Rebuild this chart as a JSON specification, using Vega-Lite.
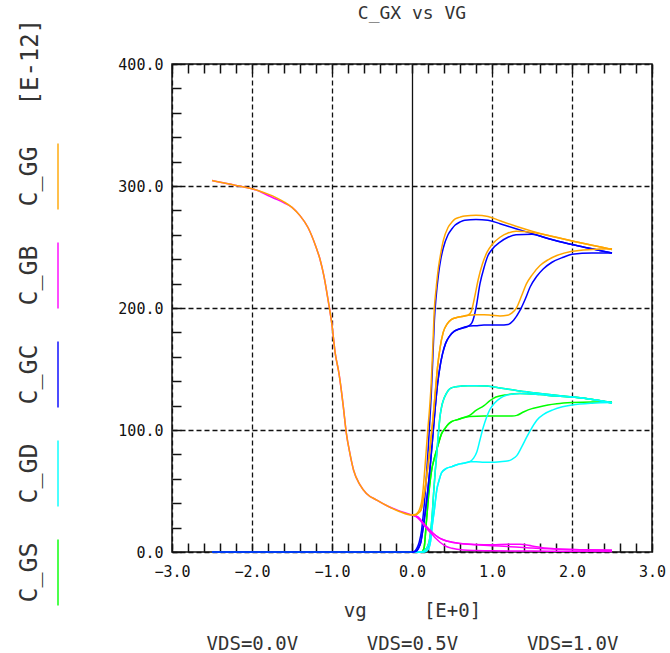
{
"$schema":"https://vega.github.io/schema/vega-lite/v6.json",
"autosize":{"type":"none"},
"padding":{"left":0,"top":64,"right":670,"bottom":589},
"bounds":"flush",
"spacing":85,
"config":{"view":{"stroke":"#111","strokeWidth":1.5},"axis":{"labelFont":"DejaVu Sans Mono","titleFont":"DejaVu Sans Mono"}},
"datasets":{
"legend":[{"name":"C_GG"},{"name":"C_GB"},{"name":"C_GC"},{"name":"C_GD"},{"name":"C_GS"}],
"curves":[
{"q":"C_GS","vds":"0.0","vg":-2.5,"c":0},{"q":"C_GS","vds":"0.0","vg":0,"c":0},{"q":"C_GS","vds":"0.0","vg":0.1,"c":0},{"q":"C_GS","vds":"0.0","vg":0.15,"c":1},{"q":"C_GS","vds":"0.0","vg":0.2,"c":5},{"q":"C_GS","vds":"0.0","vg":0.23,"c":15},{"q":"C_GS","vds":"0.0","vg":0.25,"c":28},{"q":"C_GS","vds":"0.0","vg":0.27,"c":48},{"q":"C_GS","vds":"0.0","vg":0.29,"c":66},{"q":"C_GS","vds":"0.0","vg":0.31,"c":81},{"q":"C_GS","vds":"0.0","vg":0.33,"c":97},{"q":"C_GS","vds":"0.0","vg":0.35,"c":111},{"q":"C_GS","vds":"0.0","vg":0.37,"c":119},{"q":"C_GS","vds":"0.0","vg":0.39,"c":124},{"q":"C_GS","vds":"0.0","vg":0.43,"c":130},{"q":"C_GS","vds":"0.0","vg":0.475,"c":134},{"q":"C_GS","vds":"0.0","vg":0.55,"c":135.5},{"q":"C_GS","vds":"0.0","vg":0.62,"c":136},{"q":"C_GS","vds":"0.0","vg":0.7,"c":136.3},{"q":"C_GS","vds":"0.0","vg":0.8,"c":136.3},{"q":"C_GS","vds":"0.0","vg":0.94,"c":136},{"q":"C_GS","vds":"0.0","vg":1.1,"c":134.5},{"q":"C_GS","vds":"0.0","vg":1.35,"c":132},{"q":"C_GS","vds":"0.0","vg":1.6,"c":130},{"q":"C_GS","vds":"0.0","vg":1.8,"c":128.5},{"q":"C_GS","vds":"0.0","vg":2.1,"c":126.5},{"q":"C_GS","vds":"0.0","vg":2.3,"c":124.5},{"q":"C_GS","vds":"0.0","vg":2.5,"c":122},
{"q":"C_GS","vds":"0.5","vg":0,"c":0},{"q":"C_GS","vds":"0.5","vg":0.12,"c":0},{"q":"C_GS","vds":"0.5","vg":0.15,"c":3},{"q":"C_GS","vds":"0.5","vg":0.18,"c":25},{"q":"C_GS","vds":"0.5","vg":0.21,"c":48},{"q":"C_GS","vds":"0.5","vg":0.245,"c":67},{"q":"C_GS","vds":"0.5","vg":0.28,"c":77},{"q":"C_GS","vds":"0.5","vg":0.31,"c":84},{"q":"C_GS","vds":"0.5","vg":0.34,"c":91},{"q":"C_GS","vds":"0.5","vg":0.37,"c":97},{"q":"C_GS","vds":"0.5","vg":0.41,"c":101},{"q":"C_GS","vds":"0.5","vg":0.45,"c":104.5},{"q":"C_GS","vds":"0.5","vg":0.5,"c":107},{"q":"C_GS","vds":"0.5","vg":0.57,"c":108.5},{"q":"C_GS","vds":"0.5","vg":0.64,"c":110},{"q":"C_GS","vds":"0.5","vg":0.72,"c":112},{"q":"C_GS","vds":"0.5","vg":0.8,"c":116},{"q":"C_GS","vds":"0.5","vg":0.9,"c":120},{"q":"C_GS","vds":"0.5","vg":0.975,"c":124},{"q":"C_GS","vds":"0.5","vg":1.05,"c":127},{"q":"C_GS","vds":"0.5","vg":1.19,"c":129},{"q":"C_GS","vds":"0.5","vg":1.35,"c":130},{"q":"C_GS","vds":"0.5","vg":1.6,"c":129},{"q":"C_GS","vds":"0.5","vg":1.8,"c":127.8},{"q":"C_GS","vds":"0.5","vg":2.1,"c":126.5},{"q":"C_GS","vds":"0.5","vg":2.3,"c":124.5},{"q":"C_GS","vds":"0.5","vg":2.5,"c":122.5},
{"q":"C_GS","vds":"1.0","vg":0,"c":0},{"q":"C_GS","vds":"1.0","vg":0.12,"c":0},{"q":"C_GS","vds":"1.0","vg":0.15,"c":3},{"q":"C_GS","vds":"1.0","vg":0.18,"c":25},{"q":"C_GS","vds":"1.0","vg":0.21,"c":48},{"q":"C_GS","vds":"1.0","vg":0.245,"c":67},{"q":"C_GS","vds":"1.0","vg":0.28,"c":77},{"q":"C_GS","vds":"1.0","vg":0.31,"c":84},{"q":"C_GS","vds":"1.0","vg":0.34,"c":91},{"q":"C_GS","vds":"1.0","vg":0.37,"c":97},{"q":"C_GS","vds":"1.0","vg":0.41,"c":101},{"q":"C_GS","vds":"1.0","vg":0.45,"c":104.5},{"q":"C_GS","vds":"1.0","vg":0.5,"c":107},{"q":"C_GS","vds":"1.0","vg":0.57,"c":108.5},{"q":"C_GS","vds":"1.0","vg":0.64,"c":110},{"q":"C_GS","vds":"1.0","vg":0.72,"c":111},{"q":"C_GS","vds":"1.0","vg":0.9,"c":111.5},{"q":"C_GS","vds":"1.0","vg":1.1,"c":111.5},{"q":"C_GS","vds":"1.0","vg":1.25,"c":111.5},{"q":"C_GS","vds":"1.0","vg":1.31,"c":112},{"q":"C_GS","vds":"1.0","vg":1.4,"c":115},{"q":"C_GS","vds":"1.0","vg":1.5,"c":117.5},{"q":"C_GS","vds":"1.0","vg":1.56,"c":118.5},{"q":"C_GS","vds":"1.0","vg":1.7,"c":120.5},{"q":"C_GS","vds":"1.0","vg":1.81,"c":121.5},{"q":"C_GS","vds":"1.0","vg":2.0,"c":122.5},{"q":"C_GS","vds":"1.0","vg":2.25,"c":123},{"q":"C_GS","vds":"1.0","vg":2.5,"c":123},
{"q":"C_GD","vds":"0.0","vg":-2.5,"c":0},{"q":"C_GD","vds":"0.0","vg":0,"c":0},{"q":"C_GD","vds":"0.0","vg":0.1,"c":0},{"q":"C_GD","vds":"0.0","vg":0.15,"c":1},{"q":"C_GD","vds":"0.0","vg":0.2,"c":5},{"q":"C_GD","vds":"0.0","vg":0.23,"c":15},{"q":"C_GD","vds":"0.0","vg":0.25,"c":28},{"q":"C_GD","vds":"0.0","vg":0.27,"c":48},{"q":"C_GD","vds":"0.0","vg":0.29,"c":66},{"q":"C_GD","vds":"0.0","vg":0.31,"c":81},{"q":"C_GD","vds":"0.0","vg":0.33,"c":97},{"q":"C_GD","vds":"0.0","vg":0.35,"c":111},{"q":"C_GD","vds":"0.0","vg":0.37,"c":119},{"q":"C_GD","vds":"0.0","vg":0.39,"c":124},{"q":"C_GD","vds":"0.0","vg":0.43,"c":130},{"q":"C_GD","vds":"0.0","vg":0.475,"c":134},{"q":"C_GD","vds":"0.0","vg":0.55,"c":135.5},{"q":"C_GD","vds":"0.0","vg":0.62,"c":136},{"q":"C_GD","vds":"0.0","vg":0.7,"c":136.3},{"q":"C_GD","vds":"0.0","vg":0.8,"c":136.3},{"q":"C_GD","vds":"0.0","vg":0.94,"c":136},{"q":"C_GD","vds":"0.0","vg":1.1,"c":134.5},{"q":"C_GD","vds":"0.0","vg":1.35,"c":132},{"q":"C_GD","vds":"0.0","vg":1.6,"c":130},{"q":"C_GD","vds":"0.0","vg":1.8,"c":128.5},{"q":"C_GD","vds":"0.0","vg":2.1,"c":126.5},{"q":"C_GD","vds":"0.0","vg":2.3,"c":124.5},{"q":"C_GD","vds":"0.0","vg":2.5,"c":122},
{"q":"C_GD","vds":"0.5","vg":0,"c":0},{"q":"C_GD","vds":"0.5","vg":0.15,"c":0},{"q":"C_GD","vds":"0.5","vg":0.2,"c":2},{"q":"C_GD","vds":"0.5","vg":0.23,"c":8},{"q":"C_GD","vds":"0.5","vg":0.25,"c":20},{"q":"C_GD","vds":"0.5","vg":0.28,"c":35},{"q":"C_GD","vds":"0.5","vg":0.31,"c":51},{"q":"C_GD","vds":"0.5","vg":0.34,"c":59},{"q":"C_GD","vds":"0.5","vg":0.37,"c":65},{"q":"C_GD","vds":"0.5","vg":0.43,"c":68.5},{"q":"C_GD","vds":"0.5","vg":0.5,"c":70},{"q":"C_GD","vds":"0.5","vg":0.58,"c":72},{"q":"C_GD","vds":"0.5","vg":0.66,"c":73},{"q":"C_GD","vds":"0.5","vg":0.72,"c":74},{"q":"C_GD","vds":"0.5","vg":0.77,"c":77},{"q":"C_GD","vds":"0.5","vg":0.81,"c":82},{"q":"C_GD","vds":"0.5","vg":0.85,"c":92},{"q":"C_GD","vds":"0.5","vg":0.89,"c":102},{"q":"C_GD","vds":"0.5","vg":0.93,"c":110},{"q":"C_GD","vds":"0.5","vg":0.975,"c":117},{"q":"C_GD","vds":"0.5","vg":1.03,"c":122},{"q":"C_GD","vds":"0.5","vg":1.1,"c":126},{"q":"C_GD","vds":"0.5","vg":1.18,"c":128.5},{"q":"C_GD","vds":"0.5","vg":1.26,"c":129.5},{"q":"C_GD","vds":"0.5","vg":1.35,"c":130},{"q":"C_GD","vds":"0.5","vg":1.6,"c":129},{"q":"C_GD","vds":"0.5","vg":1.8,"c":127.8},{"q":"C_GD","vds":"0.5","vg":2.1,"c":126.5},{"q":"C_GD","vds":"0.5","vg":2.3,"c":124.5},{"q":"C_GD","vds":"0.5","vg":2.5,"c":122.5},
{"q":"C_GD","vds":"1.0","vg":0,"c":0},{"q":"C_GD","vds":"1.0","vg":0.15,"c":0},{"q":"C_GD","vds":"1.0","vg":0.2,"c":2},{"q":"C_GD","vds":"1.0","vg":0.23,"c":8},{"q":"C_GD","vds":"1.0","vg":0.25,"c":20},{"q":"C_GD","vds":"1.0","vg":0.28,"c":35},{"q":"C_GD","vds":"1.0","vg":0.31,"c":51},{"q":"C_GD","vds":"1.0","vg":0.34,"c":59},{"q":"C_GD","vds":"1.0","vg":0.37,"c":65},{"q":"C_GD","vds":"1.0","vg":0.43,"c":68.5},{"q":"C_GD","vds":"1.0","vg":0.5,"c":70},{"q":"C_GD","vds":"1.0","vg":0.58,"c":72},{"q":"C_GD","vds":"1.0","vg":0.66,"c":73},{"q":"C_GD","vds":"1.0","vg":0.72,"c":74},{"q":"C_GD","vds":"1.0","vg":0.8,"c":74},{"q":"C_GD","vds":"1.0","vg":0.9,"c":73.5},{"q":"C_GD","vds":"1.0","vg":1.0,"c":73.5},{"q":"C_GD","vds":"1.0","vg":1.1,"c":74},{"q":"C_GD","vds":"1.0","vg":1.19,"c":74.5},{"q":"C_GD","vds":"1.0","vg":1.25,"c":76},{"q":"C_GD","vds":"1.0","vg":1.31,"c":79},{"q":"C_GD","vds":"1.0","vg":1.37,"c":86},{"q":"C_GD","vds":"1.0","vg":1.44,"c":95},{"q":"C_GD","vds":"1.0","vg":1.5,"c":102},{"q":"C_GD","vds":"1.0","vg":1.56,"c":108},{"q":"C_GD","vds":"1.0","vg":1.65,"c":113},{"q":"C_GD","vds":"1.0","vg":1.76,"c":116.5},{"q":"C_GD","vds":"1.0","vg":1.88,"c":119},{"q":"C_GD","vds":"1.0","vg":2.0,"c":120.5},{"q":"C_GD","vds":"1.0","vg":2.25,"c":122},{"q":"C_GD","vds":"1.0","vg":2.5,"c":122.5},
{"q":"C_GC","vds":"0.0","vg":-2.5,"c":0},{"q":"C_GC","vds":"0.0","vg":0,"c":0},{"q":"C_GC","vds":"0.0","vg":0.03,"c":0.5},{"q":"C_GC","vds":"0.0","vg":0.06,"c":3},{"q":"C_GC","vds":"0.0","vg":0.09,"c":8},{"q":"C_GC","vds":"0.0","vg":0.12,"c":18},{"q":"C_GC","vds":"0.0","vg":0.14,"c":30},{"q":"C_GC","vds":"0.0","vg":0.16,"c":44},{"q":"C_GC","vds":"0.0","vg":0.18,"c":62},{"q":"C_GC","vds":"0.0","vg":0.2,"c":82},{"q":"C_GC","vds":"0.0","vg":0.22,"c":104},{"q":"C_GC","vds":"0.0","vg":0.24,"c":128},{"q":"C_GC","vds":"0.0","vg":0.26,"c":158},{"q":"C_GC","vds":"0.0","vg":0.28,"c":190},{"q":"C_GC","vds":"0.0","vg":0.3,"c":208},{"q":"C_GC","vds":"0.0","vg":0.33,"c":227},{"q":"C_GC","vds":"0.0","vg":0.36,"c":240},{"q":"C_GC","vds":"0.0","vg":0.39,"c":249},{"q":"C_GC","vds":"0.0","vg":0.45,"c":260},{"q":"C_GC","vds":"0.0","vg":0.5,"c":265},{"q":"C_GC","vds":"0.0","vg":0.54,"c":268},{"q":"C_GC","vds":"0.0","vg":0.6,"c":270.5},{"q":"C_GC","vds":"0.0","vg":0.66,"c":272},{"q":"C_GC","vds":"0.0","vg":0.8,"c":272.5},{"q":"C_GC","vds":"0.0","vg":0.95,"c":272},{"q":"C_GC","vds":"0.0","vg":1.1,"c":269},{"q":"C_GC","vds":"0.0","vg":1.3,"c":265},{"q":"C_GC","vds":"0.0","vg":1.5,"c":261},{"q":"C_GC","vds":"0.0","vg":1.7,"c":257},{"q":"C_GC","vds":"0.0","vg":2.0,"c":252},{"q":"C_GC","vds":"0.0","vg":2.25,"c":248.5},{"q":"C_GC","vds":"0.0","vg":2.5,"c":245},
{"q":"C_GC","vds":"0.5","vg":0,"c":0},{"q":"C_GC","vds":"0.5","vg":0.05,"c":0.5},{"q":"C_GC","vds":"0.5","vg":0.08,"c":3},{"q":"C_GC","vds":"0.5","vg":0.11,"c":8},{"q":"C_GC","vds":"0.5","vg":0.14,"c":20},{"q":"C_GC","vds":"0.5","vg":0.17,"c":35},{"q":"C_GC","vds":"0.5","vg":0.2,"c":52},{"q":"C_GC","vds":"0.5","vg":0.23,"c":72},{"q":"C_GC","vds":"0.5","vg":0.26,"c":95},{"q":"C_GC","vds":"0.5","vg":0.29,"c":118},{"q":"C_GC","vds":"0.5","vg":0.32,"c":138},{"q":"C_GC","vds":"0.5","vg":0.35,"c":152},{"q":"C_GC","vds":"0.5","vg":0.38,"c":162},{"q":"C_GC","vds":"0.5","vg":0.42,"c":171},{"q":"C_GC","vds":"0.5","vg":0.47,"c":177},{"q":"C_GC","vds":"0.5","vg":0.53,"c":181},{"q":"C_GC","vds":"0.5","vg":0.6,"c":183},{"q":"C_GC","vds":"0.5","vg":0.7,"c":185},{"q":"C_GC","vds":"0.5","vg":0.75,"c":188},{"q":"C_GC","vds":"0.5","vg":0.8,"c":200},{"q":"C_GC","vds":"0.5","vg":0.85,"c":220},{"q":"C_GC","vds":"0.5","vg":0.9,"c":233},{"q":"C_GC","vds":"0.5","vg":0.95,"c":243},{"q":"C_GC","vds":"0.5","vg":1.0,"c":248},{"q":"C_GC","vds":"0.5","vg":1.1,"c":254},{"q":"C_GC","vds":"0.5","vg":1.2,"c":258},{"q":"C_GC","vds":"0.5","vg":1.3,"c":260},{"q":"C_GC","vds":"0.5","vg":1.5,"c":260.5},{"q":"C_GC","vds":"0.5","vg":1.7,"c":257},{"q":"C_GC","vds":"0.5","vg":2.0,"c":252},{"q":"C_GC","vds":"0.5","vg":2.25,"c":248.5},{"q":"C_GC","vds":"0.5","vg":2.5,"c":245},
{"q":"C_GC","vds":"1.0","vg":0,"c":0},{"q":"C_GC","vds":"1.0","vg":0.05,"c":0.5},{"q":"C_GC","vds":"1.0","vg":0.08,"c":3},{"q":"C_GC","vds":"1.0","vg":0.11,"c":8},{"q":"C_GC","vds":"1.0","vg":0.14,"c":20},{"q":"C_GC","vds":"1.0","vg":0.17,"c":35},{"q":"C_GC","vds":"1.0","vg":0.2,"c":52},{"q":"C_GC","vds":"1.0","vg":0.23,"c":72},{"q":"C_GC","vds":"1.0","vg":0.26,"c":95},{"q":"C_GC","vds":"1.0","vg":0.29,"c":118},{"q":"C_GC","vds":"1.0","vg":0.32,"c":138},{"q":"C_GC","vds":"1.0","vg":0.35,"c":152},{"q":"C_GC","vds":"1.0","vg":0.38,"c":162},{"q":"C_GC","vds":"1.0","vg":0.42,"c":171},{"q":"C_GC","vds":"1.0","vg":0.47,"c":177},{"q":"C_GC","vds":"1.0","vg":0.53,"c":181},{"q":"C_GC","vds":"1.0","vg":0.6,"c":183},{"q":"C_GC","vds":"1.0","vg":0.7,"c":185},{"q":"C_GC","vds":"1.0","vg":0.8,"c":185.5},{"q":"C_GC","vds":"1.0","vg":0.9,"c":186},{"q":"C_GC","vds":"1.0","vg":1.0,"c":186},{"q":"C_GC","vds":"1.0","vg":1.1,"c":186},{"q":"C_GC","vds":"1.0","vg":1.2,"c":186.5},{"q":"C_GC","vds":"1.0","vg":1.27,"c":190},{"q":"C_GC","vds":"1.0","vg":1.35,"c":198},{"q":"C_GC","vds":"1.0","vg":1.42,"c":208},{"q":"C_GC","vds":"1.0","vg":1.475,"c":217},{"q":"C_GC","vds":"1.0","vg":1.56,"c":226},{"q":"C_GC","vds":"1.0","vg":1.64,"c":232},{"q":"C_GC","vds":"1.0","vg":1.75,"c":237.5},{"q":"C_GC","vds":"1.0","vg":1.89,"c":241.6},{"q":"C_GC","vds":"1.0","vg":2.0,"c":244},{"q":"C_GC","vds":"1.0","vg":2.25,"c":245},{"q":"C_GC","vds":"1.0","vg":2.5,"c":245},
{"q":"C_GB","vds":"0.0","vg":-2.5,"c":304.5},{"q":"C_GB","vds":"0.0","vg":-2.3,"c":301.8},{"q":"C_GB","vds":"0.0","vg":-2.1,"c":299.2},{"q":"C_GB","vds":"0.0","vg":-2.0,"c":297.8},{"q":"C_GB","vds":"0.0","vg":-1.9,"c":295.5},{"q":"C_GB","vds":"0.0","vg":-1.8,"c":292.2},{"q":"C_GB","vds":"0.0","vg":-1.7,"c":289.3},{"q":"C_GB","vds":"0.0","vg":-1.6,"c":286.2},{"q":"C_GB","vds":"0.0","vg":-1.5,"c":282.5},{"q":"C_GB","vds":"0.0","vg":-1.4,"c":275.7},{"q":"C_GB","vds":"0.0","vg":-1.3,"c":266},{"q":"C_GB","vds":"0.0","vg":-1.2,"c":250},{"q":"C_GB","vds":"0.0","vg":-1.15,"c":240},{"q":"C_GB","vds":"0.0","vg":-1.1,"c":226},{"q":"C_GB","vds":"0.0","vg":-1.05,"c":207},{"q":"C_GB","vds":"0.0","vg":-1.0,"c":186},{"q":"C_GB","vds":"0.0","vg":-0.96,"c":163},{"q":"C_GB","vds":"0.0","vg":-0.92,"c":149},{"q":"C_GB","vds":"0.0","vg":-0.9,"c":140.7},{"q":"C_GB","vds":"0.0","vg":-0.86,"c":120},{"q":"C_GB","vds":"0.0","vg":-0.82,"c":97},{"q":"C_GB","vds":"0.0","vg":-0.78,"c":82},{"q":"C_GB","vds":"0.0","vg":-0.73,"c":67},{"q":"C_GB","vds":"0.0","vg":-0.65,"c":55},{"q":"C_GB","vds":"0.0","vg":-0.57,"c":48},{"q":"C_GB","vds":"0.0","vg":-0.44,"c":42.5},{"q":"C_GB","vds":"0.0","vg":-0.3,"c":37.5},{"q":"C_GB","vds":"0.0","vg":-0.15,"c":33.5},{"q":"C_GB","vds":"0.0","vg":0,"c":30.3},{"q":"C_GB","vds":"0.0","vg":0.05,"c":29},{"q":"C_GB","vds":"0.0","vg":0.1,"c":26},{"q":"C_GB","vds":"0.0","vg":0.15,"c":22},{"q":"C_GB","vds":"0.0","vg":0.2,"c":18},{"q":"C_GB","vds":"0.0","vg":0.25,"c":14.5},{"q":"C_GB","vds":"0.0","vg":0.3,"c":11},{"q":"C_GB","vds":"0.0","vg":0.35,"c":8},{"q":"C_GB","vds":"0.0","vg":0.43,"c":4.5},{"q":"C_GB","vds":"0.0","vg":0.5,"c":3},{"q":"C_GB","vds":"0.0","vg":0.64,"c":1.6},{"q":"C_GB","vds":"0.0","vg":0.8,"c":1.2},{"q":"C_GB","vds":"0.0","vg":1.0,"c":1},{"q":"C_GB","vds":"0.0","vg":1.5,"c":0.8},{"q":"C_GB","vds":"0.0","vg":2.0,"c":0.6},{"q":"C_GB","vds":"0.0","vg":2.5,"c":0.5},
{"q":"C_GB","vds":"0.5","vg":0,"c":30.3},{"q":"C_GB","vds":"0.5","vg":0.05,"c":29.5},{"q":"C_GB","vds":"0.5","vg":0.1,"c":27},{"q":"C_GB","vds":"0.5","vg":0.14,"c":23.5},{"q":"C_GB","vds":"0.5","vg":0.2,"c":19.5},{"q":"C_GB","vds":"0.5","vg":0.27,"c":15},{"q":"C_GB","vds":"0.5","vg":0.33,"c":12},{"q":"C_GB","vds":"0.5","vg":0.39,"c":10},{"q":"C_GB","vds":"0.5","vg":0.5,"c":8},{"q":"C_GB","vds":"0.5","vg":0.6,"c":7},{"q":"C_GB","vds":"0.5","vg":0.8,"c":6},{"q":"C_GB","vds":"0.5","vg":1.0,"c":5.2},{"q":"C_GB","vds":"0.5","vg":1.2,"c":4.5},{"q":"C_GB","vds":"0.5","vg":1.5,"c":3.2},{"q":"C_GB","vds":"0.5","vg":2.0,"c":2},{"q":"C_GB","vds":"0.5","vg":2.5,"c":1.5},
{"q":"C_GB","vds":"1.0","vg":0,"c":30.3},{"q":"C_GB","vds":"1.0","vg":0.05,"c":29.5},{"q":"C_GB","vds":"1.0","vg":0.1,"c":27},{"q":"C_GB","vds":"1.0","vg":0.14,"c":23.5},{"q":"C_GB","vds":"1.0","vg":0.2,"c":19.5},{"q":"C_GB","vds":"1.0","vg":0.27,"c":15},{"q":"C_GB","vds":"1.0","vg":0.33,"c":12},{"q":"C_GB","vds":"1.0","vg":0.39,"c":10},{"q":"C_GB","vds":"1.0","vg":0.5,"c":8},{"q":"C_GB","vds":"1.0","vg":0.6,"c":7},{"q":"C_GB","vds":"1.0","vg":0.8,"c":6.2},{"q":"C_GB","vds":"1.0","vg":1.0,"c":6},{"q":"C_GB","vds":"1.0","vg":1.2,"c":6.3},{"q":"C_GB","vds":"1.0","vg":1.35,"c":6.3},{"q":"C_GB","vds":"1.0","vg":1.5,"c":5},{"q":"C_GB","vds":"1.0","vg":1.7,"c":3},{"q":"C_GB","vds":"1.0","vg":2.0,"c":2},{"q":"C_GB","vds":"1.0","vg":2.5,"c":1.5},
{"q":"C_GG","vds":"0.0","vg":-2.5,"c":304.5},{"q":"C_GG","vds":"0.0","vg":-2.3,"c":301.8},{"q":"C_GG","vds":"0.0","vg":-2.1,"c":299.2},{"q":"C_GG","vds":"0.0","vg":-2.0,"c":297.8},{"q":"C_GG","vds":"0.0","vg":-1.9,"c":295.7},{"q":"C_GG","vds":"0.0","vg":-1.8,"c":293.3},{"q":"C_GG","vds":"0.0","vg":-1.7,"c":290.5},{"q":"C_GG","vds":"0.0","vg":-1.6,"c":287},{"q":"C_GG","vds":"0.0","vg":-1.5,"c":282.5},{"q":"C_GG","vds":"0.0","vg":-1.4,"c":275.7},{"q":"C_GG","vds":"0.0","vg":-1.3,"c":266},{"q":"C_GG","vds":"0.0","vg":-1.2,"c":250},{"q":"C_GG","vds":"0.0","vg":-1.15,"c":240},{"q":"C_GG","vds":"0.0","vg":-1.1,"c":226},{"q":"C_GG","vds":"0.0","vg":-1.05,"c":207},{"q":"C_GG","vds":"0.0","vg":-1.0,"c":186},{"q":"C_GG","vds":"0.0","vg":-0.96,"c":163},{"q":"C_GG","vds":"0.0","vg":-0.92,"c":149},{"q":"C_GG","vds":"0.0","vg":-0.9,"c":140.7},{"q":"C_GG","vds":"0.0","vg":-0.86,"c":120},{"q":"C_GG","vds":"0.0","vg":-0.82,"c":97},{"q":"C_GG","vds":"0.0","vg":-0.78,"c":82},{"q":"C_GG","vds":"0.0","vg":-0.73,"c":67},{"q":"C_GG","vds":"0.0","vg":-0.65,"c":55},{"q":"C_GG","vds":"0.0","vg":-0.57,"c":48},{"q":"C_GG","vds":"0.0","vg":-0.44,"c":42.5},{"q":"C_GG","vds":"0.0","vg":-0.3,"c":37.5},{"q":"C_GG","vds":"0.0","vg":-0.15,"c":33},{"q":"C_GG","vds":"0.0","vg":0,"c":30.3},{"q":"C_GG","vds":"0.0","vg":0.05,"c":31},{"q":"C_GG","vds":"0.0","vg":0.08,"c":33},{"q":"C_GG","vds":"0.0","vg":0.1,"c":36},{"q":"C_GG","vds":"0.0","vg":0.12,"c":41},{"q":"C_GG","vds":"0.0","vg":0.14,"c":52},{"q":"C_GG","vds":"0.0","vg":0.16,"c":68},{"q":"C_GG","vds":"0.0","vg":0.18,"c":85},{"q":"C_GG","vds":"0.0","vg":0.2,"c":102},{"q":"C_GG","vds":"0.0","vg":0.22,"c":118},{"q":"C_GG","vds":"0.0","vg":0.24,"c":138},{"q":"C_GG","vds":"0.0","vg":0.26,"c":168},{"q":"C_GG","vds":"0.0","vg":0.28,"c":200},{"q":"C_GG","vds":"0.0","vg":0.3,"c":215},{"q":"C_GG","vds":"0.0","vg":0.33,"c":233},{"q":"C_GG","vds":"0.0","vg":0.36,"c":245},{"q":"C_GG","vds":"0.0","vg":0.39,"c":255},{"q":"C_GG","vds":"0.0","vg":0.45,"c":266},{"q":"C_GG","vds":"0.0","vg":0.5,"c":270.5},{"q":"C_GG","vds":"0.0","vg":0.54,"c":273},{"q":"C_GG","vds":"0.0","vg":0.6,"c":274.5},{"q":"C_GG","vds":"0.0","vg":0.66,"c":275.5},{"q":"C_GG","vds":"0.0","vg":0.8,"c":276},{"q":"C_GG","vds":"0.0","vg":0.95,"c":275},{"q":"C_GG","vds":"0.0","vg":1.1,"c":271.5},{"q":"C_GG","vds":"0.0","vg":1.3,"c":267},{"q":"C_GG","vds":"0.0","vg":1.5,"c":263},{"q":"C_GG","vds":"0.0","vg":1.73,"c":259},{"q":"C_GG","vds":"0.0","vg":2.0,"c":255},{"q":"C_GG","vds":"0.0","vg":2.25,"c":251.5},{"q":"C_GG","vds":"0.0","vg":2.5,"c":248},
{"q":"C_GG","vds":"0.5","vg":0,"c":30.3},{"q":"C_GG","vds":"0.5","vg":0.05,"c":30.5},{"q":"C_GG","vds":"0.5","vg":0.08,"c":32},{"q":"C_GG","vds":"0.5","vg":0.11,"c":34},{"q":"C_GG","vds":"0.5","vg":0.14,"c":43},{"q":"C_GG","vds":"0.5","vg":0.17,"c":55},{"q":"C_GG","vds":"0.5","vg":0.2,"c":71},{"q":"C_GG","vds":"0.5","vg":0.23,"c":88},{"q":"C_GG","vds":"0.5","vg":0.26,"c":108},{"q":"C_GG","vds":"0.5","vg":0.29,"c":130},{"q":"C_GG","vds":"0.5","vg":0.32,"c":152},{"q":"C_GG","vds":"0.5","vg":0.35,"c":167},{"q":"C_GG","vds":"0.5","vg":0.39,"c":180},{"q":"C_GG","vds":"0.5","vg":0.44,"c":187},{"q":"C_GG","vds":"0.5","vg":0.49,"c":190.5},{"q":"C_GG","vds":"0.5","vg":0.55,"c":192},{"q":"C_GG","vds":"0.5","vg":0.62,"c":193},{"q":"C_GG","vds":"0.5","vg":0.7,"c":194},{"q":"C_GG","vds":"0.5","vg":0.74,"c":197},{"q":"C_GG","vds":"0.5","vg":0.78,"c":208},{"q":"C_GG","vds":"0.5","vg":0.83,"c":224},{"q":"C_GG","vds":"0.5","vg":0.88,"c":236},{"q":"C_GG","vds":"0.5","vg":0.94,"c":246},{"q":"C_GG","vds":"0.5","vg":1.0,"c":252},{"q":"C_GG","vds":"0.5","vg":1.1,"c":258},{"q":"C_GG","vds":"0.5","vg":1.2,"c":261.5},{"q":"C_GG","vds":"0.5","vg":1.3,"c":263},{"q":"C_GG","vds":"0.5","vg":1.5,"c":262},{"q":"C_GG","vds":"0.5","vg":1.73,"c":259},{"q":"C_GG","vds":"0.5","vg":2.0,"c":255},{"q":"C_GG","vds":"0.5","vg":2.25,"c":251.5},{"q":"C_GG","vds":"0.5","vg":2.5,"c":248},
{"q":"C_GG","vds":"1.0","vg":0,"c":30.3},{"q":"C_GG","vds":"1.0","vg":0.05,"c":30.5},{"q":"C_GG","vds":"1.0","vg":0.08,"c":32},{"q":"C_GG","vds":"1.0","vg":0.11,"c":34},{"q":"C_GG","vds":"1.0","vg":0.14,"c":43},{"q":"C_GG","vds":"1.0","vg":0.17,"c":55},{"q":"C_GG","vds":"1.0","vg":0.2,"c":71},{"q":"C_GG","vds":"1.0","vg":0.23,"c":88},{"q":"C_GG","vds":"1.0","vg":0.26,"c":108},{"q":"C_GG","vds":"1.0","vg":0.29,"c":130},{"q":"C_GG","vds":"1.0","vg":0.32,"c":152},{"q":"C_GG","vds":"1.0","vg":0.35,"c":167},{"q":"C_GG","vds":"1.0","vg":0.39,"c":180},{"q":"C_GG","vds":"1.0","vg":0.44,"c":187},{"q":"C_GG","vds":"1.0","vg":0.49,"c":190.5},{"q":"C_GG","vds":"1.0","vg":0.55,"c":192},{"q":"C_GG","vds":"1.0","vg":0.62,"c":193},{"q":"C_GG","vds":"1.0","vg":0.7,"c":194},{"q":"C_GG","vds":"1.0","vg":0.8,"c":194.5},{"q":"C_GG","vds":"1.0","vg":0.9,"c":194.5},{"q":"C_GG","vds":"1.0","vg":1.0,"c":194},{"q":"C_GG","vds":"1.0","vg":1.1,"c":193.5},{"q":"C_GG","vds":"1.0","vg":1.19,"c":194},{"q":"C_GG","vds":"1.0","vg":1.25,"c":196},{"q":"C_GG","vds":"1.0","vg":1.31,"c":200.6},{"q":"C_GG","vds":"1.0","vg":1.37,"c":210},{"q":"C_GG","vds":"1.0","vg":1.43,"c":219.8},{"q":"C_GG","vds":"1.0","vg":1.5,"c":227},{"q":"C_GG","vds":"1.0","vg":1.6,"c":234.8},{"q":"C_GG","vds":"1.0","vg":1.7,"c":239.5},{"q":"C_GG","vds":"1.0","vg":1.81,"c":243},{"q":"C_GG","vds":"1.0","vg":2.0,"c":246.5},{"q":"C_GG","vds":"1.0","vg":2.25,"c":248},{"q":"C_GG","vds":"1.0","vg":2.5,"c":248.5}
]},
"hconcat":[
{
"width":87,"height":558,
"view":{"stroke":null},
"data":{"name":"legend"},
"encoding":{
"y":{"field":"name","type":"nominal","sort":null,"scale":{"type":"band","paddingInner":0,"paddingOuter":0.318,"align":1},
"axis":{"title":"[E-12]","labels":false,"ticks":false,"domain":false,"grid":false,"titleAngle":270,"titleX":30,"titleY":41,"titleAlign":"left","titleBaseline":"middle","titleFont":"DejaVu Sans Mono","titleFontSize":24,"titleFontWeight":"normal","titleColor":"#333"}}
},
"layer":[
{"mark":{"type":"text","angle":270,"font":"DejaVu Sans Mono","fontSize":25,"color":"#333","align":"center","baseline":"middle"},
"encoding":{"x":{"datum":"label","type":"nominal","scale":{"type":"point","domain":["label","swatch"],"padding":1.111},"axis":null},"text":{"field":"name"}}},
{"mark":{"type":"tick","orient":"vertical","size":66,"thickness":2},
"encoding":{"x":{"datum":"swatch","type":"nominal"},"color":{"field":"name","type":"nominal","scale":{"domain":["C_GG","C_GB","C_GC","C_GD","C_GS"],"range":["#FFA500","#FF00FF","#0000FF","#00FFFF","#00FF00"]},"legend":null}}}
]
},
{
"width":480,"height":488,
"title":{"text":"C_GX vs VG","font":"DejaVu Sans Mono","fontSize":18,"fontWeight":"normal","color":"#333","anchor":"middle","baseline":"alphabetic","offset":20},
"data":{"name":"curves"},
"resolve":{"axis":{"x":"independent","y":"independent"}},
"layer":[
{"transform":[{"filter":"datum.q==='C_GS'"}],
"mark":{"type":"line","color":"#00FF00","strokeWidth":1.5,"interpolate":"monotone"},
"encoding":{
"x":{"field":"vg","type":"quantitative","scale":{"domain":[-3,3],"nice":false,"zero":false},
"axis":{"orient":"bottom","values":[-3,-2.8,-2.6,-2.4,-2.2,-2,-1.8,-1.6,-1.4,-1.2,-1,-0.8,-0.6,-0.4,-0.2,0,0.2,0.4,0.6,0.8,1,1.2,1.4,1.6,1.8,2,2.2,2.4,2.6,2.8,3],
"labelExpr":"abs(datum.value-round(datum.value))<0.001 ? format(datum.value,'.1f') : ''","labelFontSize":15,"labelColor":"#111","labelPadding":21,"labelFlush":false,"labelOverlap":false,
"tickSize":-9,"tickColor":"#111","tickWidth":1.5,"domain":false,
"grid":true,"gridColor":"#111","gridWidth":1.3,"gridDash":{"condition":{"test":"datum.value===0","value":[]},"value":[5,3]},"gridOpacity":{"condition":{"test":"abs(datum.value-round(datum.value))>0.001","value":0},"value":1},
"title":["vg\u00a0\u00a0\u00a0\u00a0\u00a0[E+0]","VDS=0.0V\u00a0\u00a0\u00a0\u00a0\u00a0\u00a0VDS=0.5V\u00a0\u00a0\u00a0\u00a0\u00a0\u00a0VDS=1.0V"],"titleFontSize":19,"titleFontWeight":"normal","titleColor":"#333","titleLineHeight":33,"titlePadding":22}},
"y":{"field":"c","type":"quantitative","scale":{"domain":[0,400],"nice":false,"zero":false},
"axis":{"orient":"left","values":[0,20,40,60,80,100,120,140,160,180,200,220,240,260,280,300,320,340,360,380,400],
"labelExpr":"datum.value % 100 === 0 ? format(datum.value,'.1f') : ''","labelFontSize":15,"labelColor":"#111","labelPadding":18,"labelOverlap":false,"labelFlush":false,
"tickSize":-9,"tickColor":"#111","tickWidth":1.5,"domain":false,
"grid":true,"gridColor":"#111","gridWidth":1.3,"gridDash":[5,3],"gridOpacity":{"condition":{"test":"datum.value % 100 !== 0","value":0},"value":1},
"title":null}},
"detail":{"field":"vds"}}},
{"transform":[{"filter":"datum.q==='C_GD'"}],
"mark":{"type":"line","color":"#00FFFF","strokeWidth":1.5,"interpolate":"monotone"},
"encoding":{
"x":{"field":"vg","type":"quantitative","axis":{"orient":"top","values":[-3,-2.8,-2.6,-2.4,-2.2,-2,-1.8,-1.6,-1.4,-1.2,-1,-0.8,-0.6,-0.4,-0.2,0,0.2,0.4,0.6,0.8,1,1.2,1.4,1.6,1.8,2,2.2,2.4,2.6,2.8,3],"labels":false,"grid":false,"domain":false,"tickSize":-9,"tickColor":"#111","tickWidth":1.5,"title":null}},
"y":{"field":"c","type":"quantitative","axis":null},
"detail":{"field":"vds"}}},
{"transform":[{"filter":"datum.q==='C_GC'"}],
"mark":{"type":"line","color":"#0000FF","strokeWidth":1.5,"interpolate":"monotone"},
"encoding":{"x":{"field":"vg","type":"quantitative","axis":null},"y":{"field":"c","type":"quantitative","axis":null},"detail":{"field":"vds"}}},
{"transform":[{"filter":"datum.q==='C_GB'"}],
"mark":{"type":"line","color":"#FF00FF","strokeWidth":1.5,"interpolate":"monotone"},
"encoding":{"x":{"field":"vg","type":"quantitative","axis":null},"y":{"field":"c","type":"quantitative","axis":null},"detail":{"field":"vds"}}},
{"transform":[{"filter":"datum.q==='C_GG'"}],
"mark":{"type":"line","color":"#FFA500","strokeWidth":1.5,"interpolate":"monotone"},
"encoding":{"x":{"field":"vg","type":"quantitative","axis":null},"y":{"field":"c","type":"quantitative","axis":null},"detail":{"field":"vds"}}}
]
}
]
}
